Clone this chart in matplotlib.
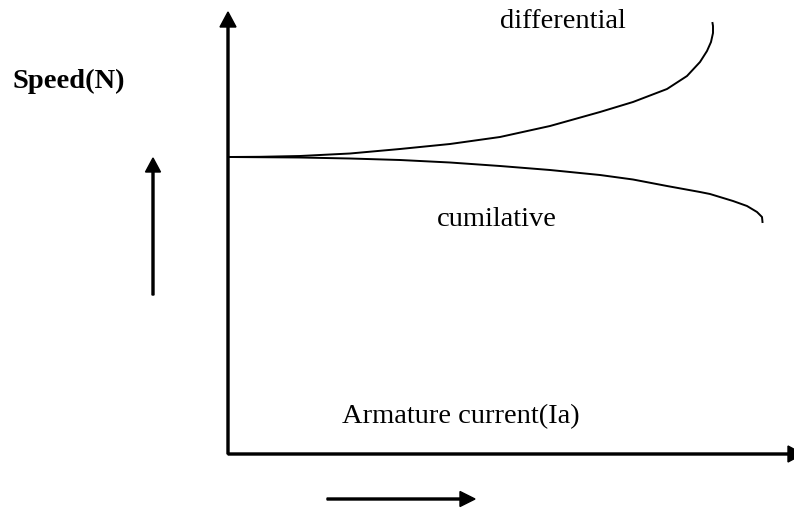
import matplotlib
matplotlib.use('Agg')
import matplotlib.pyplot as plt
import numpy as np

# curve points (x = current, y = speed, origin at axes corner)
current_diff = [0, 32, 72, 122, 172, 222, 272, 322, 372, 405, 439, 459, 472, 479, 483, 485, 485, 484.5]
speed_diff = [297, 297.2, 298, 300.5, 305, 310, 317, 328, 342, 352, 365, 378, 392, 403, 412, 421, 428, 431]

current_cum = [0, 72, 122, 172, 222, 272, 322, 372, 405, 439, 472, 482, 505, 519, 529, 534, 534.5]
speed_cum = [297, 296.5, 295.5, 294, 291.5, 288, 284, 279, 274.5, 268, 262, 260, 253, 248, 242, 237, 232]

plt.rcParams['font.family'] = ['Liberation Serif', 'DejaVu Serif']

fig = plt.figure(figsize=(7.94, 5.10), dpi=100)
ax = fig.add_axes([0, 0, 1, 1])
ax.set_xlim(-228, 566)
ax.set_ylim(-55, 455)
ax.axis('off')

# axes arrows
ax.arrow(0, 0, 0, 442, width=2, head_width=16, head_length=15,
         length_includes_head=True, color='black')
ax.arrow(0, 0, 575, 0, width=2, head_width=16, head_length=15,
         length_includes_head=True, color='black')

# direction arrows
ax.arrow(-75, 159, 0, 137, width=2, head_width=15, head_length=14,
         length_includes_head=True, color='black')
ax.arrow(99, -45, 148, 0, width=2, head_width=15, head_length=15,
         length_includes_head=True, color='black')

ax.plot(current_diff, speed_diff, color='black', lw=1.4, solid_joinstyle='round')
ax.plot(current_cum, speed_cum, color='black', lw=1.4, solid_joinstyle='round')

fs = 20.5
ax.text(272, 427, 'differential', fontsize=fs, ha='left', va='baseline')
ax.text(209, 229, 'cumilative', fontsize=fs, ha='left', va='baseline')
ax.text(114, 32, 'Armature current(Ia)', fontsize=fs, ha='left', va='baseline')
ax.text(-103, 367, 'Speed(N)', fontsize=fs, fontweight='bold', ha='right', va='baseline')

fig.savefig('out.png', dpi=100)
